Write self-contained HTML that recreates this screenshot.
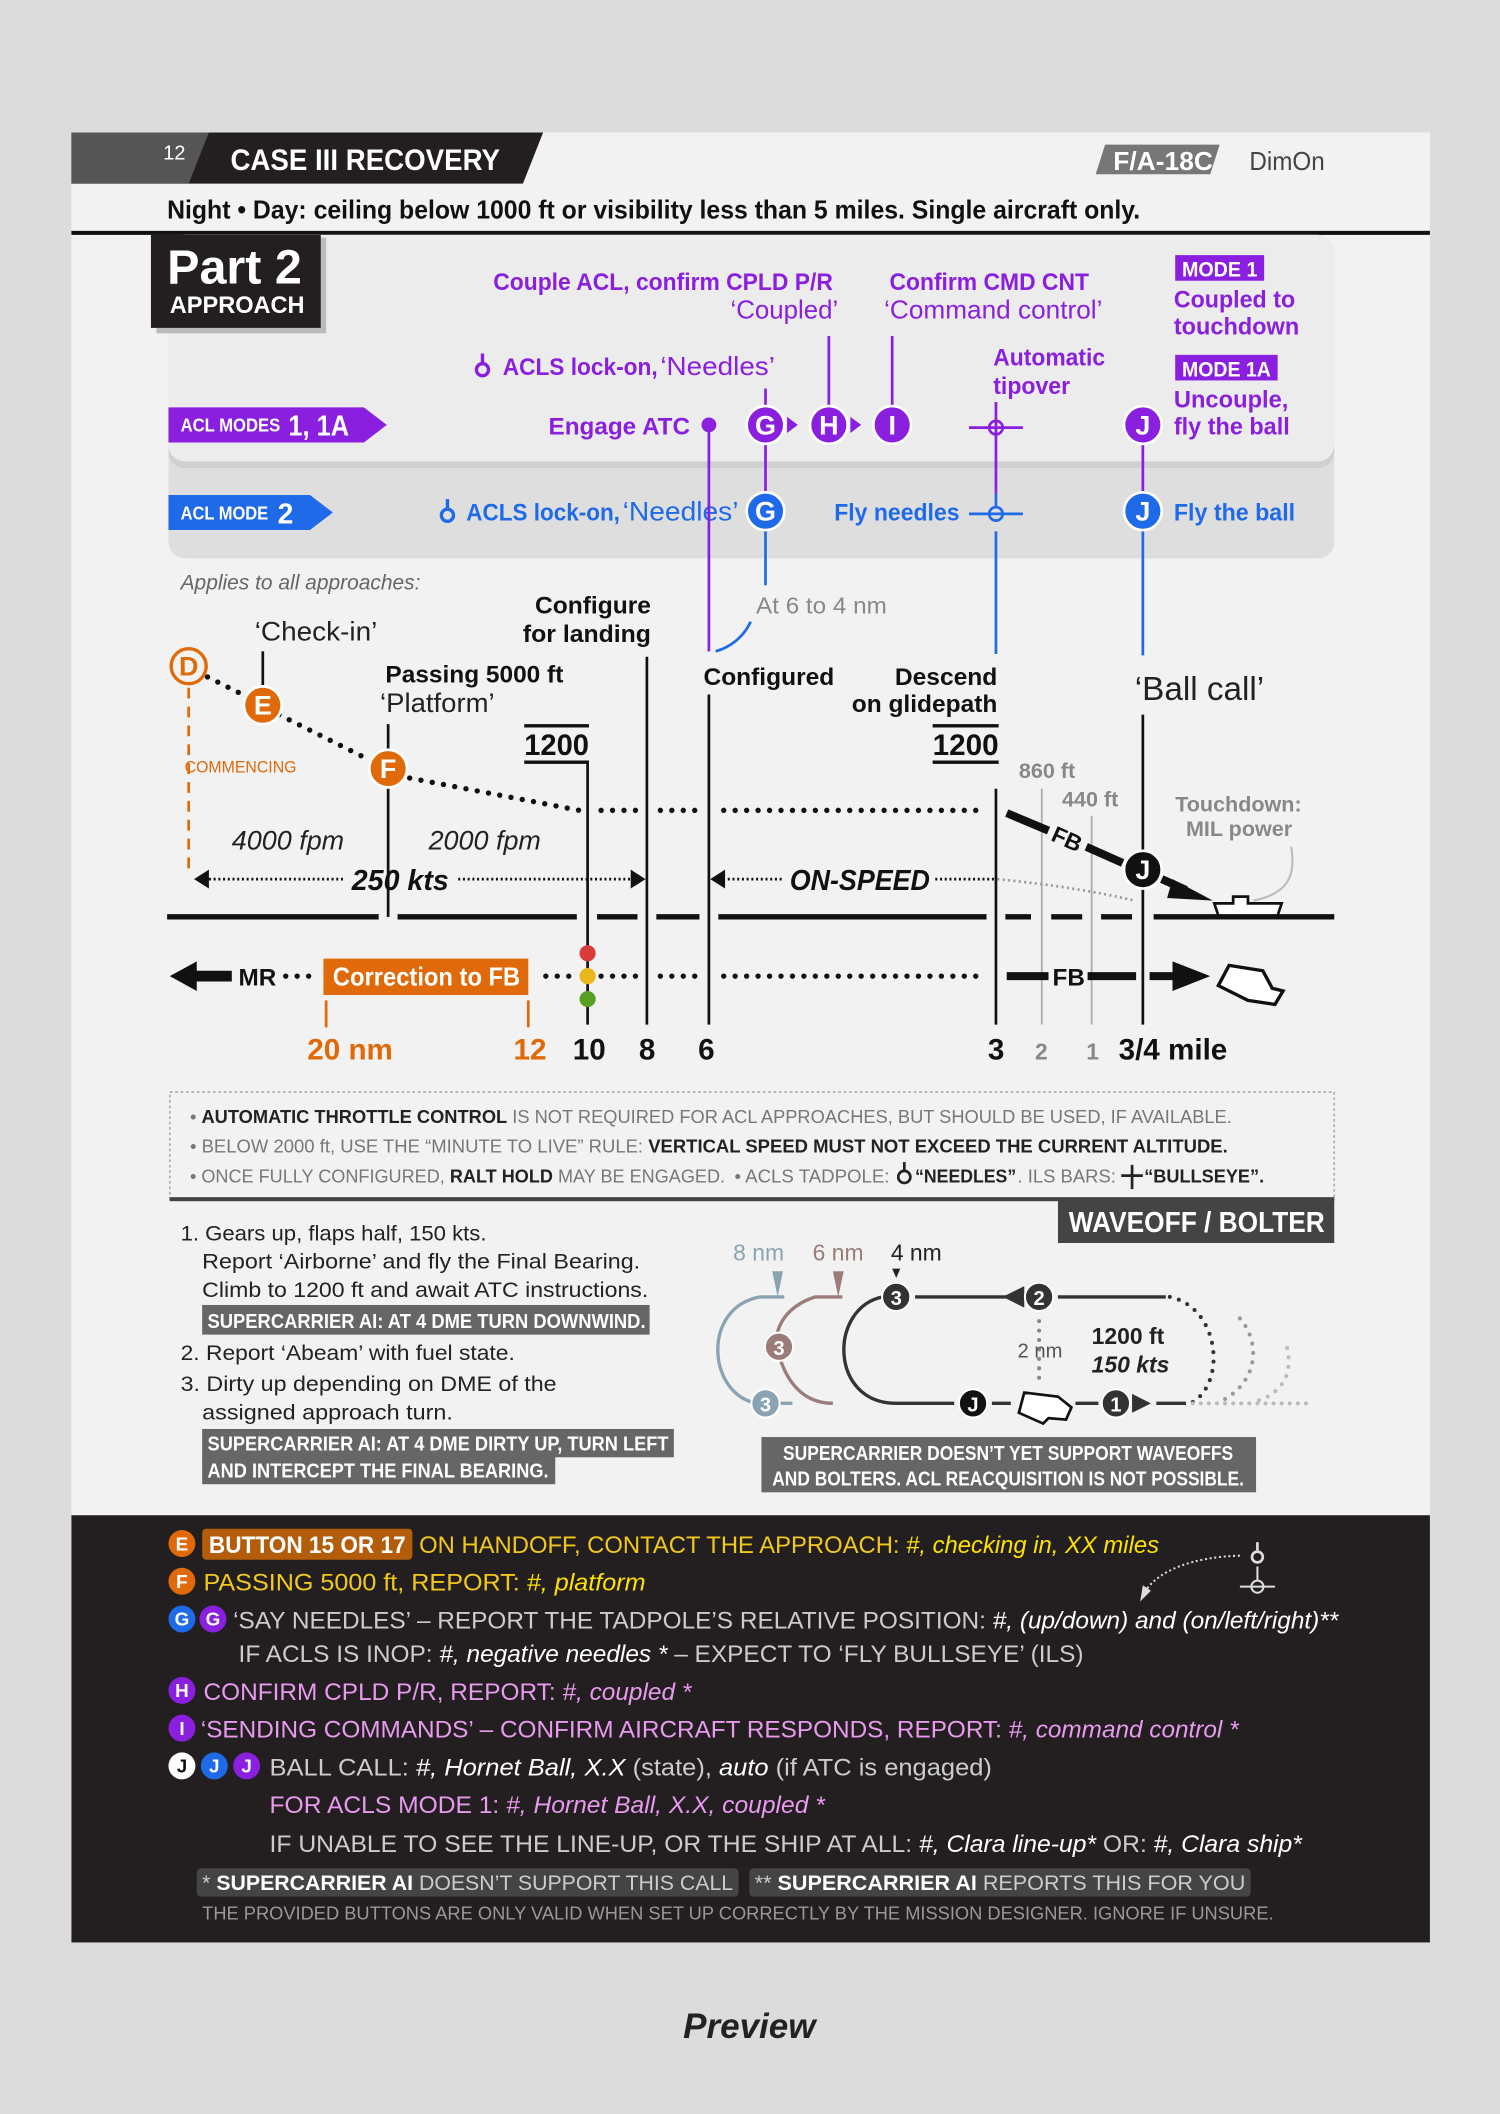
<!DOCTYPE html>
<html><head><meta charset="utf-8"><style>
html,body{margin:0;padding:0;background:#dcdcdc;}
svg{display:block;}
text{font-family:"Liberation Sans Narrow","Liberation Sans",sans-serif;}
.b{font-weight:bold}
.i{font-style:italic}
.p{fill:#8a1fe0}
.bl{fill:#1f6ae8}
.w{fill:#fff}
.g{fill:#777}
.o{fill:#e06a0a}
</style></head><body>
<svg width="1500" height="2114" viewBox="0 0 1113 1568" xmlns="http://www.w3.org/2000/svg">
<rect x="0" y="0" width="1113" height="1568" fill="#dcdcdc"/>
<rect x="53" y="98" width="1008" height="1343" fill="#f2f2f2"/>
<!-- header -->
<polygon points="53,98 403,98 388,136 53,136" fill="#231f20"/>
<polygon points="53,98 155,98 140,136 53,136" fill="#555"/>
<text x="121" y="118" font-size="15" class="w">12</text>
<text x="171" y="126" font-size="22" class="b w" textLength="200" lengthAdjust="spacingAndGlyphs">CASE III RECOVERY</text>
<polygon points="820,107 905,107 898,129 813,129" fill="#777"/>
<text x="826" y="126" font-size="19" class="b w" textLength="74" lengthAdjust="spacingAndGlyphs">F/A-18C</text>
<text x="927" y="126" font-size="19" fill="#444" textLength="56" lengthAdjust="spacingAndGlyphs">DimOn</text>
<text x="124" y="162" font-size="19" class="b" fill="#111" textLength="722" lengthAdjust="spacingAndGlyphs">Night • Day: ceiling below 1000 ft or visibility less than 5 miles. Single aircraft only.</text>
<rect x="53" y="171" width="1008" height="3" fill="#111"/>
<!-- panels -->
<rect x="125" y="174" width="865" height="240" rx="12" fill="#dedede"/>
<rect x="125" y="177" width="865" height="170" rx="12" fill="#d0d0d0"/>
<rect x="125" y="174" width="865" height="168" rx="12" fill="#ececec"/>
<rect x="116" y="176" width="126" height="71" fill="#bbb"/>
<rect x="112" y="174" width="126" height="69" fill="#231f20"/>
<text x="124" y="210" font-size="36" class="b w">Part 2</text>
<text x="126" y="232" font-size="18" class="b w" textLength="100" lengthAdjust="spacingAndGlyphs">APPROACH</text>
<!-- ACL mode tags -->
<polygon points="125,302 270,302 287,315 270,328 125,328" fill="#8a1fe0"/>
<text x="134" y="320" font-size="14" class="b w" textLength="74" lengthAdjust="spacingAndGlyphs">ACL MODES</text>
<text x="214" y="323" font-size="21" class="b w" textLength="45" lengthAdjust="spacingAndGlyphs">1, 1A</text>
<polygon points="125,367 230,367 247,380 230,393 125,393" fill="#1f6ae8"/>
<text x="134" y="385" font-size="14" class="b w" textLength="65" lengthAdjust="spacingAndGlyphs">ACL MODE</text>
<text x="206" y="388" font-size="21" class="b w">2</text>
<!-- purple texts -->
<g font-size="18" class="b p">
<text x="618" y="215" text-anchor="end" textLength="252" lengthAdjust="spacingAndGlyphs">Couple ACL, confirm CPLD P/R</text>
<text x="660" y="215" textLength="148" lengthAdjust="spacingAndGlyphs">Confirm CMD CNT</text>
<text x="373" y="278" textLength="115" lengthAdjust="spacingAndGlyphs">ACLS lock-on,</text>
<text x="737" y="271" textLength="83" lengthAdjust="spacingAndGlyphs">Automatic</text>
<text x="737" y="292" textLength="57" lengthAdjust="spacingAndGlyphs">tipover</text>
<text x="407" y="322" textLength="105" lengthAdjust="spacingAndGlyphs">Engage ATC</text>
<text x="871" y="228" textLength="90" lengthAdjust="spacingAndGlyphs">Coupled to</text>
<text x="871" y="248" textLength="93" lengthAdjust="spacingAndGlyphs">touchdown</text>
<text x="871" y="302" textLength="85" lengthAdjust="spacingAndGlyphs">Uncouple,</text>
<text x="871" y="322" textLength="86" lengthAdjust="spacingAndGlyphs">fly the ball</text>
</g>
<g font-size="19" class="p">
<text x="622" y="236" text-anchor="end" textLength="80" lengthAdjust="spacingAndGlyphs">‘Coupled’</text>
<text x="656" y="236" textLength="162" lengthAdjust="spacingAndGlyphs">‘Command control’</text>
<text x="490" y="278" textLength="85" lengthAdjust="spacingAndGlyphs">‘Needles’</text>
</g>
<g fill="none" stroke="#8a1fe0" stroke-width="2.5"><circle cx="358" cy="274" r="4.5"/><line x1="358" y1="262" x2="358" y2="269"/></g>
<rect x="872" y="189" width="66" height="19" fill="#8a1fe0"/>
<text x="877" y="205" font-size="16" class="b w" textLength="56" lengthAdjust="spacingAndGlyphs">MODE 1</text>
<rect x="872" y="263" width="76" height="19" fill="#8a1fe0"/>
<text x="877" y="279" font-size="16" class="b w" textLength="66" lengthAdjust="spacingAndGlyphs">MODE 1A</text>
<!-- blue texts -->
<g font-size="18" class="b bl">
<text x="346" y="386" textLength="114" lengthAdjust="spacingAndGlyphs">ACLS lock-on,</text>
<text x="712" y="386" text-anchor="end" textLength="93" lengthAdjust="spacingAndGlyphs">Fly needles</text>
<text x="871" y="386" textLength="90" lengthAdjust="spacingAndGlyphs">Fly the ball</text>
</g>
<text x="462" y="386" font-size="20" class="bl" textLength="86" lengthAdjust="spacingAndGlyphs">‘Needles’</text>
<g fill="none" stroke="#1f6ae8" stroke-width="2.5"><circle cx="332" cy="382" r="4.5"/><line x1="332" y1="370" x2="332" y2="377"/></g>
<!-- connector lines -->
<g stroke="#8a1fe0" stroke-width="2" fill="none">
<line x1="568" y1="288" x2="568" y2="366"/>
<line x1="615" y1="249" x2="615" y2="301"/>
<line x1="662" y1="249" x2="662" y2="301"/>
<line x1="739" y1="298" x2="739" y2="366"/>
<line x1="848" y1="330" x2="848" y2="366"/>
<line x1="526" y1="315" x2="526" y2="483"/>
</g>
<g stroke="#1f6ae8" stroke-width="2" fill="none">
<line x1="568" y1="393" x2="568" y2="434"/>
<path d="M557,461 C552,472 542,480 531,483"/>
<line x1="739" y1="394" x2="739" y2="485"/>
<line x1="848" y1="394" x2="848" y2="486"/>
</g>
<circle cx="526" cy="315" r="5.5" fill="#8a1fe0"/>
<!-- circles -->
<g font-size="20" class="b w" text-anchor="middle">
<circle cx="568" cy="315" r="14" fill="#8a1fe0" stroke="#fff" stroke-width="2"/><text x="568" y="322">G</text>
<circle cx="615" cy="315" r="14" fill="#8a1fe0" stroke="#fff" stroke-width="2"/><text x="615" y="322">H</text>
<circle cx="662" cy="315" r="14" fill="#8a1fe0" stroke="#fff" stroke-width="2"/><text x="662" y="322">I</text>
<circle cx="848" cy="315" r="14" fill="#8a1fe0" stroke="#fff" stroke-width="2"/><text x="848" y="322">J</text>
<circle cx="568" cy="379" r="14" fill="#1f6ae8" stroke="#fff" stroke-width="2"/><text x="568" y="386">G</text>
<circle cx="848" cy="379" r="14" fill="#1f6ae8" stroke="#fff" stroke-width="2"/><text x="848" y="386">J</text>
</g>
<polygon points="584,309 592,315 584,321" fill="#8a1fe0"/>
<polygon points="631,309 639,315 631,321" fill="#8a1fe0"/>
<g fill="none" stroke="#8a1fe0" stroke-width="2"><circle cx="739" cy="317" r="5"/><line x1="719" y1="317" x2="759" y2="317"/></g>
<g fill="none" stroke="#1f6ae8" stroke-width="2"><circle cx="739" cy="381" r="5"/><line x1="719" y1="381" x2="759" y2="381"/><line x1="739" y1="366" x2="739" y2="376"/></g>
<!-- lower diagram -->
<text x="134" y="437" font-size="16" class="i" fill="#666" textLength="178" lengthAdjust="spacingAndGlyphs">Applies to all approaches:</text>
<g font-size="18" class="b" fill="#111">
<text x="397" y="455" textLength="86" lengthAdjust="spacingAndGlyphs">Configure</text>
<text x="388" y="476" textLength="95" lengthAdjust="spacingAndGlyphs">for landing</text>
<text x="286" y="506" textLength="132" lengthAdjust="spacingAndGlyphs">Passing 5000 ft</text>
<text x="522" y="508" textLength="97" lengthAdjust="spacingAndGlyphs">Configured</text>
<text x="664" y="508" textLength="76" lengthAdjust="spacingAndGlyphs">Descend</text>
<text x="632" y="528" textLength="108" lengthAdjust="spacingAndGlyphs">on glidepath</text>
<text x="389" y="560" font-size="22" textLength="48" lengthAdjust="spacingAndGlyphs">1200</text>
<text x="692" y="560" font-size="22" textLength="49" lengthAdjust="spacingAndGlyphs">1200</text>
</g>
<g fill="#111"><rect x="389" y="537" width="48" height="2.5"/><rect x="389" y="564" width="48" height="2.5"/><rect x="692" y="537" width="49" height="2.5"/><rect x="692" y="564" width="49" height="2.5"/></g>
<text x="189" y="475" font-size="20" fill="#222" textLength="91" lengthAdjust="spacingAndGlyphs">‘Check-in’</text>
<text x="282" y="528" font-size="20" fill="#222" textLength="85" lengthAdjust="spacingAndGlyphs">‘Platform’</text>
<text x="842" y="519" font-size="25" fill="#222" textLength="96" lengthAdjust="spacingAndGlyphs">‘Ball call’</text>
<text x="561" y="455" font-size="17" fill="#888" textLength="97" lengthAdjust="spacingAndGlyphs">At 6 to 4 nm</text>
<text x="756" y="577" font-size="16" class="b" fill="#888">860 ft</text>
<text x="788" y="598" font-size="16" class="b" fill="#888">440 ft</text>
<text x="872" y="602" font-size="16" class="b" fill="#888">Touchdown:</text>
<text x="880" y="620" font-size="16" class="b" fill="#888">MIL power</text>
<path d="M958,628 C962,650 955,663 930,668" fill="none" stroke="#bbb" stroke-width="1.5"/>
<text x="137" y="573" font-size="12" class="o" textLength="83" lengthAdjust="spacingAndGlyphs">COMMENCING</text>
<line x1="140" y1="510" x2="140" y2="650" stroke="#e06a0a" stroke-width="2" stroke-dasharray="8,6"/>
<!-- vertical lines -->
<g stroke="#111" stroke-width="2">
<line x1="195" y1="483" x2="195" y2="508"/>
<line x1="288" y1="537" x2="288" y2="556"/>
<line x1="288" y1="584" x2="288" y2="680"/>
<line x1="436" y1="566" x2="436" y2="760"/>
<line x1="480" y1="487" x2="480" y2="760"/>
<line x1="526" y1="515" x2="526" y2="760"/>
<line x1="739" y1="585" x2="739" y2="760"/>
<line x1="848" y1="530" x2="848" y2="760"/>
</g>
<g stroke="#aaa" stroke-width="1.3"><line x1="773" y1="585" x2="773" y2="760"/><line x1="810" y1="605" x2="810" y2="760"/></g>
<!-- ground line -->
<g stroke="#111" stroke-width="4">
<line x1="124" y1="680" x2="281" y2="680"/><line x1="295" y1="680" x2="428" y2="680"/><line x1="443" y1="680" x2="473" y2="680"/><line x1="487" y1="680" x2="519" y2="680"/><line x1="533" y1="680" x2="732" y2="680"/><line x1="746" y1="680" x2="765" y2="680"/><line x1="780" y1="680" x2="803" y2="680"/><line x1="817" y1="680" x2="840" y2="680"/><line x1="856" y1="680" x2="990" y2="680"/>
</g>
<!-- glide dots -->
<g stroke="#111" stroke-width="4" stroke-linecap="round" fill="none" stroke-dasharray="0,8.5">
<line x1="154" y1="502" x2="184" y2="517"/>
<line x1="207" y1="530" x2="275" y2="564"/>
<line x1="304" y1="577" x2="430" y2="601"/>
<line x1="446" y1="601" x2="472" y2="601"/>
<line x1="490" y1="601" x2="518" y2="601"/>
<line x1="537" y1="601" x2="730" y2="601"/>
<line x1="405" y1="724" x2="430" y2="724"/>
<line x1="446" y1="724" x2="472" y2="724"/>
<line x1="490" y1="724" x2="518" y2="724"/>
<line x1="537" y1="724" x2="730" y2="724"/>
<line x1="212" y1="724" x2="232" y2="724"/>
</g>
<circle cx="140" cy="494" r="13" fill="#f2f2f2" stroke="#e06a0a" stroke-width="2.5"/>
<text x="140" y="501" font-size="20" class="b o" text-anchor="middle">D</text>
<g font-size="20" class="b w" text-anchor="middle">
<circle cx="195" cy="523" r="14" fill="#e06a0a" stroke="#fff" stroke-width="2"/><text x="195" y="530">E</text>
<circle cx="288" cy="570" r="14" fill="#e06a0a" stroke="#fff" stroke-width="2"/><text x="288" y="577">F</text>
</g>
<text x="172" y="630" font-size="20" class="i" fill="#222">4000 fpm</text>
<text x="318" y="630" font-size="20" class="i" fill="#222">2000 fpm</text>
<!-- speed arrows -->
<g stroke="#111" stroke-width="2" stroke-dasharray="1.5,2"><line x1="155" y1="652" x2="255" y2="652"/><line x1="340" y1="652" x2="468" y2="652"/><line x1="540" y1="652" x2="582" y2="652"/><line x1="694" y1="652" x2="740" y2="652"/></g>
<path d="M740,652 Q800,658 842,668" fill="none" stroke="#999" stroke-width="2" stroke-dasharray="1.5,2.5"/>
<polygon points="144,652 155,645 155,659" fill="#111"/>
<polygon points="479,652 468,645 468,659" fill="#111"/>
<polygon points="527,652 538,645 538,659" fill="#111"/>
<text x="261" y="660" font-size="21" class="b i" fill="#111" textLength="72" lengthAdjust="spacingAndGlyphs">250 kts</text>
<text x="586" y="660" font-size="21" class="b i" fill="#111" textLength="104" lengthAdjust="spacingAndGlyphs">ON-SPEED</text>
<!-- FB glide -->
<g stroke="#111" stroke-width="6"><line x1="747" y1="603" x2="778" y2="616"/><line x1="806" y1="628" x2="833" y2="640"/><line x1="862" y1="652" x2="880" y2="660"/></g>
<polygon points="870,652 900,668 866,666" fill="#111"/>
<text x="0" y="0" font-size="17" class="b" fill="#111" transform="translate(779,623) rotate(24)">FB</text>
<circle cx="848" cy="645" r="14" fill="#111" stroke="#fff" stroke-width="2"/>
<text x="848" y="652" font-size="20" class="b w" text-anchor="middle">J</text>
<path d="M904,679 L901,670 L915,670 L915,665 L926,665 L926,670 L951,670 L948,679 Z" fill="#fff" stroke="#111" stroke-width="2"/>
<!-- bottom arrows row -->
<polygon points="126,724 146,713 146,720 172,720 172,728 146,728 146,735" fill="#111"/>
<text x="177" y="731" font-size="18" class="b" fill="#111">MR</text>
<rect x="240" y="711" width="152" height="27" fill="#e06a0a"/>
<text x="247" y="731" font-size="19" class="b w" textLength="139" lengthAdjust="spacingAndGlyphs">Correction to FB</text>
<g stroke="#111" stroke-width="6"><line x1="747" y1="724" x2="778" y2="724"/><line x1="807" y1="724" x2="843" y2="724"/><line x1="853" y1="724" x2="875" y2="724"/></g>
<polygon points="870,713 898,724 870,735" fill="#111"/>
<text x="781" y="731" font-size="18" class="b" fill="#111">FB</text>
<path d="M912,716 L937,720 L944,733 L952,735 L946,745 L926,742 L904,731 Z" fill="#fff" stroke="#111" stroke-width="2.5"/>
<circle cx="436" cy="707" r="6" fill="#d93b3b"/><circle cx="436" cy="724" r="6" fill="#eab71b"/><circle cx="436" cy="741" r="6" fill="#58a021"/>
<g stroke="#e06a0a" stroke-width="2"><line x1="242" y1="742" x2="242" y2="762"/><line x1="392" y1="742" x2="392" y2="762"/></g>
<g font-size="22" class="b">
<text x="228" y="786" class="o">20 nm</text>
<text x="381" y="786" class="o">12</text>
<text x="425" y="786" fill="#111">10</text>
<text x="474" y="786" fill="#111">8</text>
<text x="518" y="786" fill="#111">6</text>
<text x="733" y="786" fill="#111">3</text>
<text x="768" y="786" font-size="17" fill="#888">2</text>
<text x="806" y="786" font-size="17" fill="#888">1</text>
<text x="830" y="786" fill="#111">3/4 mile</text>
</g>
<!-- notes box -->
<rect x="126" y="810" width="864" height="80" fill="none" stroke="#aaa" stroke-width="1.2" stroke-dasharray="2,2"/>
<g font-size="14" fill="#777">
<text x="141" y="833" textLength="773" lengthAdjust="spacingAndGlyphs">• <tspan class="b" fill="#222">AUTOMATIC THROTTLE CONTROL</tspan> IS NOT REQUIRED FOR ACL APPROACHES, BUT SHOULD BE USED, IF AVAILABLE.</text>
<text x="141" y="855" textLength="770" lengthAdjust="spacingAndGlyphs">• BELOW 2000 ft, USE THE “MINUTE TO LIVE” RULE: <tspan class="b" fill="#222">VERTICAL SPEED MUST NOT EXCEED THE CURRENT ALTITUDE.</tspan></text>
<text x="141" y="877" textLength="397" lengthAdjust="spacingAndGlyphs">• ONCE FULLY CONFIGURED, <tspan class="b" fill="#222">RALT HOLD</tspan> MAY BE ENGAGED.</text>
<text x="545" y="877" textLength="115" lengthAdjust="spacingAndGlyphs">• ACLS TADPOLE:</text>
<text x="679" y="877" class="b" fill="#222" textLength="75" lengthAdjust="spacingAndGlyphs">“NEEDLES”</text>
<text x="755" y="877" textLength="73" lengthAdjust="spacingAndGlyphs">. ILS BARS:</text>
<text x="849" y="877" class="b" fill="#222" textLength="89" lengthAdjust="spacingAndGlyphs">“BULLSEYE”.</text>
</g>
<g fill="none" stroke="#222" stroke-width="2"><circle cx="671" cy="873" r="4.5"/><line x1="671" y1="862" x2="671" y2="868"/><line x1="832" y1="872" x2="848" y2="872"/><line x1="840" y1="864" x2="840" y2="882"/></g>
<rect x="126" y="888" width="864" height="3" fill="#444"/>
<rect x="785" y="889" width="205" height="33" fill="#444"/>
<text x="793" y="914" font-size="21" class="b w" textLength="190" lengthAdjust="spacingAndGlyphs">WAVEOFF / BOLTER</text>
<!-- left list -->
<g font-size="16" fill="#222">
<text x="134" y="920" textLength="227" lengthAdjust="spacingAndGlyphs">1. Gears up, flaps half, 150 kts.</text>
<text x="150" y="941" textLength="325" lengthAdjust="spacingAndGlyphs">Report ‘Airborne’ and fly the Final Bearing.</text>
<text x="150" y="962" textLength="331" lengthAdjust="spacingAndGlyphs">Climb to 1200 ft and await ATC instructions.</text>
<text x="134" y="1009" textLength="248" lengthAdjust="spacingAndGlyphs">2. Report ‘Abeam’ with fuel state.</text>
<text x="134" y="1032" textLength="279" lengthAdjust="spacingAndGlyphs">3. Dirty up depending on DME of the</text>
<text x="150" y="1053" textLength="186" lengthAdjust="spacingAndGlyphs">assigned approach turn.</text>
</g>
<rect x="150" y="968" width="332" height="22" fill="#666"/>
<text x="154" y="985" font-size="15" class="b w" textLength="325" lengthAdjust="spacingAndGlyphs">SUPERCARRIER AI: AT 4 DME TURN DOWNWIND.</text>
<rect x="150" y="1060" width="350" height="21" fill="#666"/>
<rect x="150" y="1080" width="262" height="21" fill="#666"/>
<text x="154" y="1076" font-size="15" class="b w" textLength="342" lengthAdjust="spacingAndGlyphs">SUPERCARRIER AI: AT 4 DME DIRTY UP, TURN LEFT</text>
<text x="154" y="1096" font-size="15" class="b w" textLength="253" lengthAdjust="spacingAndGlyphs">AND INTERCEPT THE FINAL BEARING.</text>
<!-- waveoff diagram -->
<text x="544" y="935" font-size="17" fill="#8aa3b3">8 nm</text>
<text x="603" y="935" font-size="17" fill="#9c7c78">6 nm</text>
<text x="661" y="935" font-size="17" fill="#222">4 nm</text>
<polygon points="573,943 581,943 577,962" fill="#8aa3b3"/>
<polygon points="618,943 626,943 622,962" fill="#9c7c78"/>
<polygon points="662,941 668,941 665,948" fill="#222"/>
<path d="M582,962 L564,962 C520,970 525,1035 562,1041 M576,1041 L588,1041" fill="none" stroke="#8aa3b3" stroke-width="2.5"/>
<path d="M625,962 L605,962 C580,970 572,990 578,1005 C585,1030 600,1041 618,1041" fill="none" stroke="#9c7c78" stroke-width="2.5"/>
<path d="M655,962 C615,970 615,1041 665,1041 L708,1041 M736,1041 L750,1041 M798,1041 L815,1041 M858,1041 L880,1041 M679,962 L750,962 M785,962 L865,962" fill="none" stroke="#333" stroke-width="2.5"/>
<path d="M868,962 C905,970 910,1025 885,1040" fill="none" stroke="#333" stroke-width="3" stroke-dasharray="0,7" stroke-linecap="round"/>
<path d="M920,978 C935,995 935,1025 905,1040" fill="none" stroke="#999" stroke-width="3" stroke-dasharray="0,7" stroke-linecap="round"/>
<path d="M955,1000 C960,1020 950,1035 930,1040" fill="none" stroke="#bbb" stroke-width="3" stroke-dasharray="0,7" stroke-linecap="round"/>
<line x1="885" y1="1041" x2="975" y2="1041" stroke="#bbb" stroke-width="3" stroke-dasharray="0,6" stroke-linecap="round"/>
<line x1="771" y1="980" x2="771" y2="1028" stroke="#888" stroke-width="3" stroke-dasharray="0,7" stroke-linecap="round"/>
<polygon points="744,962 760,954 760,970" fill="#333"/>
<polygon points="840,1034 840,1048 854,1041" fill="#333"/>
<g font-size="15" class="b w" text-anchor="middle">
<circle cx="665" cy="962" r="10.5" fill="#333" stroke="#fff" stroke-width="1.5"/><text x="665" y="968">3</text>
<circle cx="771" cy="962" r="10.5" fill="#333" stroke="#fff" stroke-width="1.5"/><text x="771" y="968">2</text>
<circle cx="578" cy="999" r="10.5" fill="#9c7c78" stroke="#fff" stroke-width="1.5"/><text x="578" y="1005">3</text>
<circle cx="568" cy="1041" r="10.5" fill="#8aa3b3" stroke="#fff" stroke-width="1.5"/><text x="568" y="1047">3</text>
<circle cx="722" cy="1041" r="10.5" fill="#111" stroke="#fff" stroke-width="1.5"/><text x="722" y="1047">J</text>
<circle cx="828" cy="1041" r="10.5" fill="#333" stroke="#fff" stroke-width="1.5"/><text x="828" y="1047">1</text>
</g>
<path d="M760,1033 L785,1036 L795,1044 L791,1053 L778,1052 L774,1056 L756,1048 Z" fill="#fff" stroke="#111" stroke-width="2"/>
<text x="755" y="1007" font-size="15" fill="#555">2 nm</text>
<text x="810" y="997" font-size="17" class="b" fill="#222">1200 ft</text>
<text x="810" y="1018" font-size="17" class="b i" fill="#222">150 kts</text>
<rect x="565" y="1066" width="367" height="41" fill="#666"/>
<text x="748" y="1083" font-size="15" class="b w" text-anchor="middle" textLength="334" lengthAdjust="spacingAndGlyphs">SUPERCARRIER DOESN’T YET SUPPORT WAVEOFFS</text>
<text x="748" y="1102" font-size="15" class="b w" text-anchor="middle" textLength="350" lengthAdjust="spacingAndGlyphs">AND BOLTERS. ACL REACQUISITION IS NOT POSSIBLE.</text>
<!-- dark bottom -->
<rect x="53" y="1124" width="1008" height="317" fill="#231f20"/>
<rect x="150" y="1134" width="156" height="23" rx="3" fill="#b35d0a"/>
<g font-size="14" class="b w" text-anchor="middle">
<circle cx="135" cy="1145" r="10" fill="#e06a0a"/><text x="135" y="1150">E</text>
<circle cx="135" cy="1173" r="10" fill="#e06a0a"/><text x="135" y="1178">F</text>
<circle cx="135" cy="1201" r="10" fill="#1f6ae8"/><text x="135" y="1206">G</text>
<circle cx="158" cy="1201" r="10" fill="#8a1fe0"/><text x="158" y="1206">G</text>
<circle cx="135" cy="1254" r="10" fill="#8a1fe0"/><text x="135" y="1259">H</text>
<circle cx="135" cy="1282" r="10" fill="#8a1fe0"/><text x="135" y="1287">I</text>
<circle cx="135" cy="1310" r="10" fill="#fff"/><text x="135" y="1315" fill="#111">J</text>
<circle cx="159" cy="1310" r="10" fill="#1f6ae8"/><text x="159" y="1315">J</text>
<circle cx="183" cy="1310" r="10" fill="#8a1fe0"/><text x="183" y="1315">J</text>
</g>
<g font-size="18">
<text x="155" y="1152" class="b w" textLength="146" lengthAdjust="spacingAndGlyphs">BUTTON 15 OR 17</text>
<text x="311" y="1152" fill="#f2c81a" textLength="549" lengthAdjust="spacingAndGlyphs">ON HANDOFF, CONTACT THE APPROACH: <tspan class="i" fill="#ffe100">#, checking in, XX miles</tspan></text>
<text x="151" y="1180" fill="#f2c81a" textLength="328" lengthAdjust="spacingAndGlyphs">PASSING 5000 ft, REPORT: <tspan class="i" fill="#ffe100">#, platform</tspan></text>
<text x="173" y="1208" fill="#ccc" textLength="820" lengthAdjust="spacingAndGlyphs">‘SAY NEEDLES’ – REPORT THE TADPOLE’S RELATIVE POSITION: <tspan class="i" fill="#fff">#, (up/down) and (on/left/right)**</tspan></text>
<text x="177" y="1233" fill="#ccc" textLength="627" lengthAdjust="spacingAndGlyphs">IF ACLS IS INOP: <tspan class="i" fill="#fff">#, negative needles *</tspan> – EXPECT TO ‘FLY BULLSEYE’ (ILS)</text>
<text x="151" y="1261" fill="#e89aee" textLength="362" lengthAdjust="spacingAndGlyphs">CONFIRM CPLD P/R, REPORT: <tspan class="i">#, coupled *</tspan></text>
<text x="149" y="1289" fill="#e89aee" textLength="770" lengthAdjust="spacingAndGlyphs">‘SENDING COMMANDS’ – CONFIRM AIRCRAFT RESPONDS, REPORT: <tspan class="i">#, command control *</tspan></text>
<text x="200" y="1317" fill="#ccc" textLength="536" lengthAdjust="spacingAndGlyphs">BALL CALL: <tspan class="i" fill="#fff">#, Hornet Ball, X.X</tspan> (state), <tspan class="i" fill="#fff">auto</tspan> (if ATC is engaged)</text>
<text x="200" y="1345" fill="#e89aee" textLength="412" lengthAdjust="spacingAndGlyphs">FOR ACLS MODE 1: <tspan class="i">#, Hornet Ball, X.X, coupled *</tspan></text>
<text x="200" y="1374" fill="#ccc" textLength="766" lengthAdjust="spacingAndGlyphs">IF UNABLE TO SEE THE LINE-UP, OR THE SHIP AT ALL: <tspan class="i" fill="#fff">#, Clara line-up*</tspan> OR: <tspan class="i" fill="#fff">#, Clara ship*</tspan></text>
</g>
<path d="M920,1154 C885,1155 860,1165 850,1180" fill="none" stroke="#ddd" stroke-width="1.5" stroke-dasharray="1.5,2"/>
<polygon points="846,1188 848,1176 854,1180" fill="#ddd"/>
<g fill="none" stroke="#ddd" stroke-width="2"><circle cx="933" cy="1155" r="4"/><line x1="933" y1="1144" x2="933" y2="1150"/><circle cx="933" cy="1177" r="4.5" stroke-width="1.5"/><line x1="920" y1="1177" x2="946" y2="1177" stroke-width="1.5"/><line x1="933" y1="1162" x2="933" y2="1172" stroke-width="1.5"/></g>
<rect x="146" y="1386" width="402" height="21" rx="3" fill="#444"/>
<rect x="556" y="1386" width="372" height="21" rx="3" fill="#444"/>
<text x="150" y="1402" font-size="16" fill="#ccc" textLength="394" lengthAdjust="spacingAndGlyphs">* <tspan class="b" fill="#fff">SUPERCARRIER AI</tspan> DOESN’T SUPPORT THIS CALL</text>
<text x="560" y="1402" font-size="16" fill="#ccc" textLength="364" lengthAdjust="spacingAndGlyphs">** <tspan class="b" fill="#fff">SUPERCARRIER AI</tspan> REPORTS THIS FOR YOU</text>
<text x="150" y="1424" font-size="14" fill="#999" textLength="795" lengthAdjust="spacingAndGlyphs">THE PROVIDED BUTTONS ARE ONLY VALID WHEN SET UP CORRECTLY BY THE MISSION DESIGNER. IGNORE IF UNSURE.</text>
<text x="556" y="1512" font-size="26" class="b i" fill="#222" text-anchor="middle">Preview</text>
</svg>
</body></html>
